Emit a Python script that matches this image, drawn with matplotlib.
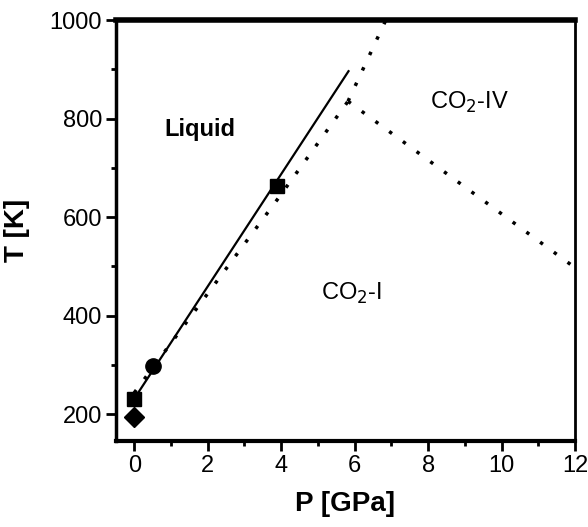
import numpy as np
import matplotlib
matplotlib.use("Agg")
import matplotlib.pyplot as plt

plt.rcParams["font.family"] = ["Liberation Sans Narrow", "Liberation Sans", "DejaVu Sans"]
plt.rcParams["mathtext.fontset"] = "custom"
plt.rcParams["mathtext.rm"] = "Liberation Sans Narrow"

# experimental points
square_P = [0.0, 3.9]
square_T = [230, 663]
circle_P = [0.52]
circle_T = [297]
diamond_P = [0.0]
diamond_T = [193]

# solid fit line
fit_P = [0.08, 5.85]
fit_T = [240, 898]

# dotted phase boundaries
melt_I_P = [0.0, 1.22, 3.94, 5.82]
melt_I_T = [243, 366, 640, 835]
melt_IV_P = [5.82, 6.85]
melt_IV_T = [835, 1000]
I_IV_P = [5.82, 12.0]
I_IV_T = [835, 497]

xticks = [0, 2, 4, 6, 8, 10, 12]
yticks = [200, 400, 600, 800, 1000]

fig = plt.figure(figsize=(5.88, 5.27), dpi=100)
ax = fig.add_axes([0.197, 0.163, 0.781, 0.799])

dots = (0, (1, 3.9))
for p, t in [(melt_I_P, melt_I_T), (melt_IV_P, melt_IV_T), (I_IV_P, I_IV_T)]:
    ax.plot(p, t, color="black", lw=2.5, linestyle=dots)

ax.plot(fit_P, fit_T, color="black", lw=1.6, solid_capstyle="butt")

ax.plot(square_P, square_T, "s", color="black", ms=10, zorder=5)
ax.plot(circle_P, circle_T, "o", color="black", ms=11, zorder=5)
ax.plot(diamond_P, diamond_T, "D", color="black", ms=10, zorder=5)

ax.text(1.79, 777, "Liquid", fontsize=17, fontweight="bold", ha="center", va="center")
ax.text(9.13, 833, "CO$_2$-IV", fontsize=17, ha="center", va="center")
ax.text(5.92, 444, "CO$_2$-I", fontsize=17, ha="center", va="center")

ax.set_xlim(-0.5, 12)
ax.set_ylim(145, 1000)
ax.set_xticks(xticks)
ax.set_yticks(yticks)
ax.set_xticks(np.arange(1, 12, 2), minor=True)
ax.set_yticks([300, 500, 700, 900], minor=True)
ax.tick_params(which="major", direction="out", length=7, width=2, labelsize=17, pad=3)
ax.tick_params(which="minor", direction="out", length=3.5, width=2)
ax.tick_params(top=False, right=False)

ax.spines["top"].set_linewidth(4)
ax.spines["left"].set_linewidth(2.5)
ax.spines["bottom"].set_linewidth(3)
ax.spines["right"].set_linewidth(2)

ax.set_xlabel("P [GPa]", fontsize=20, fontweight="bold", labelpad=10)
ax.set_ylabel("T [K]", fontsize=20, fontweight="bold", labelpad=14)

fig.savefig("out.png", dpi=100)
